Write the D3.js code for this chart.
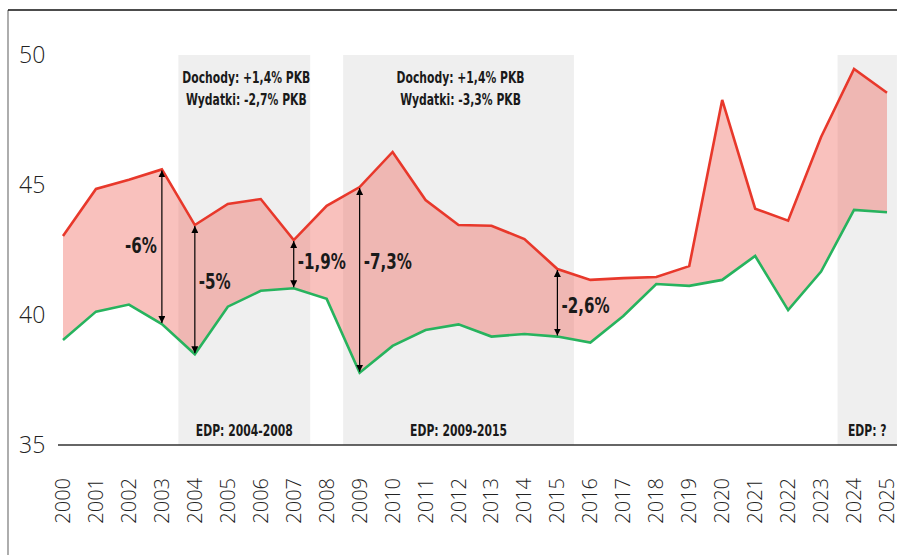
<!DOCTYPE html>
<html>
<head>
<meta charset="utf-8">
<script src="https://cdn.jsdelivr.net/npm/d3@7"></script>
<style>
    body { margin: 0; background: #fff; }
    svg { display: block; }
    .cond { font-family: "DejaVu Sans Condensed", "Liberation Sans Narrow", sans-serif; font-weight: bold; }
    .axis-label { font-family: "Open Sans", "Lato", sans-serif; font-weight: 300; fill: #222; }
</style>
</head>
<body>
<div class="plot-container"></div>
<script>
// years on the x axis
const years = d3.range(2000, 2026);

// wydatki (expenditure, % PKB) - red line
const expenditure = [43.04, 44.85, 45.2, 45.6, 43.46, 44.27, 44.46, 42.88, 44.2, 44.92,
    46.27, 44.42, 43.46, 43.43, 42.92, 41.77, 41.35, 41.42, 41.46, 41.88,
    48.27, 44.09, 43.63, 46.85, 49.46, 48.55];

// dochody (revenue, % PKB) - green line
const revenue = [39.04, 40.13, 40.4, 39.65, 38.49, 40.32, 40.93, 41.03, 40.62, 37.78,
    38.81, 39.42, 39.64, 39.17, 39.27, 39.17, 38.94, 39.96, 41.19, 41.12,
    41.35, 42.27, 40.19, 41.67, 44.04, 43.95];

const yTicks = [35, 40, 45, 50];

// EDP periods (gray bands)
const edpBands = [
    { from: 2003.5, to: 2007.5, label: "EDP: 2004-2008", lines: ["Dochody: +1,4% PKB", "Wydatki: -2,7% PKB"] },
    { from: 2008.5, to: 2015.5, label: "EDP: 2009-2015", lines: ["Dochody: +1,4% PKB", "Wydatki: -3,3% PKB"] },
    { from: 2023.5, to: 2025.3, label: "EDP: ?", lines: [] }
];

// deficit arrows
const arrows = [
    { year: 2003, text: "-6%", side: "left", yVal: 42.65 },
    { year: 2004, text: "-5%", side: "right", yVal: 41.27 },
    { year: 2007, text: "-1,9%", side: "right", yVal: 42.04 },
    { year: 2009, text: "-7,3%", side: "right", yVal: 42.04 },
    { year: 2015, text: "-2,6%", side: "right", yVal: 40.35 }
];

const width = 897, height = 555;
const squeeze = 0.8; // narrow the bold font horizontally

const svg = d3.select(".plot-container").append("svg")
    .attr("width", width)
    .attr("height", height);

const xScale = d3.scaleLinear().domain([2000, 2025]).range([63, 887]);
const yScale = d3.scaleLinear().domain([35, 50]).range([445, 55]);

function condText(x, y, txt, size, anchor) {
    svg.append("text")
        .attr("class", "cond")
        .attr("transform", `translate(${x},${y}) scale(${squeeze},1)`)
        .attr("dy", "0.35em")
        .attr("text-anchor", anchor)
        .style("font-size", size + "px")
        .style("fill", "#1a1a1a")
        .text(txt);
}

// frame lines
svg.append("line")
    .attr("x1", 8).attr("x2", 8).attr("y1", 10).attr("y2", height)
    .style("stroke", "#777").style("stroke-width", 1.2);
svg.append("line")
    .attr("x1", 8).attr("x2", width).attr("y1", 10).attr("y2", 10)
    .style("stroke", "#111").style("stroke-width", 1.5);

// gray bands
edpBands.forEach(b => {
    const x1 = xScale(b.from);
    const x2 = Math.min(xScale(b.to), width);
    svg.append("rect")
        .attr("x", x1).attr("y", yScale(50))
        .attr("width", x2 - x1).attr("height", yScale(35) - yScale(50))
        .style("fill", "#efefef");
});

// area between the lines
const area = d3.area()
    .x((d, i) => xScale(years[i]))
    .y0((d, i) => yScale(revenue[i]))
    .y1(d => yScale(d));

svg.append("path")
    .attr("d", area(expenditure))
    .style("fill", "rgb(240,100,90)")
    .style("fill-opacity", 0.4);

// baseline
svg.append("line")
    .attr("x1", 58).attr("x2", width)
    .attr("y1", yScale(35)).attr("y2", yScale(35))
    .style("stroke", "#333").style("stroke-width", 1.5);

const line = d3.line()
    .x((d, i) => xScale(years[i]))
    .y(d => yScale(d));

svg.append("path")
    .attr("d", line(expenditure))
    .style("fill", "none")
    .style("stroke", "#e8382b")
    .style("stroke-width", 2.6);

svg.append("path")
    .attr("d", line(revenue))
    .style("fill", "none")
    .style("stroke", "#27b35e")
    .style("stroke-width", 2.6);

// arrow markers
const defs = svg.append("defs");
["start", "end"].forEach(k => {
    defs.append("marker")
        .attr("id", "arr-" + k)
        .attr("viewBox", "0 0 10 10")
        .attr("refX", 10).attr("refY", 5)
        .attr("markerWidth", 7).attr("markerHeight", 7)
        .attr("markerUnits", "userSpaceOnUse")
        .attr("orient", k === "start" ? "auto-start-reverse" : "auto")
        .append("path")
        .attr("d", "M0,0 L10,5 L0,10 z")
        .style("fill", "#000");
});

arrows.forEach(a => {
    const i = years.indexOf(a.year);
    const x = xScale(a.year);
    svg.append("line")
        .attr("x1", x).attr("x2", x)
        .attr("y1", yScale(expenditure[i]) + 1)
        .attr("y2", yScale(revenue[i]) - 1)
        .style("stroke", "#000")
        .style("stroke-width", 1.2)
        .attr("marker-start", "url(#arr-start)")
        .attr("marker-end", "url(#arr-end)");
    condText(a.side === "left" ? x - 5 : x + 4, yScale(a.yVal), a.text, 21,
        a.side === "left" ? "end" : "start");
});

// band texts
edpBands.forEach(b => {
    const x1 = xScale(b.from);
    const x2 = Math.min(xScale(b.to), width);
    const cx = (x1 + x2) / 2;
    b.lines.forEach((t, k) => {
        condText(cx + 2, 78 + k * 22, t, 15, "middle");
    });
    condText(cx, 431, b.label, 15, "middle");
});

// y axis labels
svg.selectAll(".ylab")
    .data(yTicks)
    .enter().append("text")
    .attr("class", "axis-label")
    .attr("x", 19)
    .attr("y", d => yScale(d))
    .attr("dy", "0.35em")
    .style("font-size", "23px")
    .text(d => d);

// x axis labels (rotated)
svg.selectAll(".xlab")
    .data(years)
    .enter().append("text")
    .attr("class", "axis-label")
    .attr("transform", d => `translate(${xScale(d)},478) rotate(-90)`)
    .attr("dy", "0.35em")
    .attr("text-anchor", "end")
    .style("font-size", "20px")
    .text(d => d);
</script>
</body>
</html>
